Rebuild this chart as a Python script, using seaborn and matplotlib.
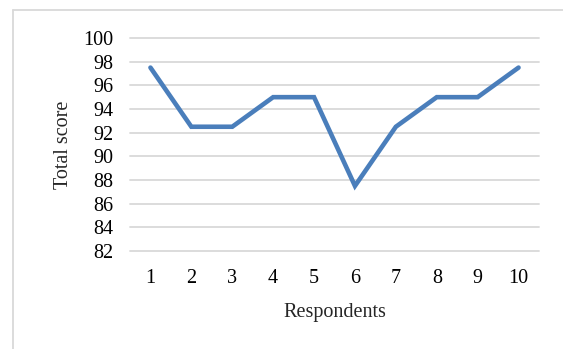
import matplotlib
matplotlib.use("Agg")
import matplotlib.pyplot as plt
from matplotlib.lines import Line2D
import seaborn as sns
import pandas as pd

respondents = [1, 2, 3, 4, 5, 6, 7, 8, 9, 10]
total_score = [97.5, 92.5, 92.5, 95, 95, 87.5, 92.5, 95, 95, 97.5]
y_ticks = [82, 84, 86, 88, 90, 92, 94, 96, 98, 100]

sns.set_theme(style="white")
plt.rcParams["font.family"] = ["Liberation Serif", "DejaVu Serif"]

df = pd.DataFrame({"Respondents": respondents, "Total score": total_score})

fig = plt.figure(figsize=(5.63, 3.49), dpi=100)
ax = fig.add_axes([130 / 563, 1 - 251 / 349, 409 / 563, 213 / 349])

sns.lineplot(data=df, x="Respondents", y="Total score", ax=ax,
             color="#4A7EBB", linewidth=3.3, solid_capstyle="round",
             solid_joinstyle="miter")

ax.set_xlim(0.5, 10.5)
ax.set_ylim(82, 100)
ax.set_yticks(y_ticks)
ax.set_xticks(respondents)
ax.yaxis.grid(True, color="#D9D9D9", linewidth=1.3)
ax.xaxis.grid(False)
for gl in ax.get_ygridlines():
    gl.set_clip_on(False)
for s in ax.spines.values():
    s.set_visible(False)

ax.tick_params(axis="both", length=0, labelsize=14.5, colors="black")
ax.tick_params(axis="y", pad=12)
ax.tick_params(axis="x", pad=13)
ax.set_xlabel("Respondents", fontsize=14.5, labelpad=11)
ax.set_ylabel("Total score", fontsize=14.5, labelpad=7)

# chart frame (left and top edges)
fig.add_artist(Line2D([13 / 563, 13 / 563], [0, 1 - 9.5 / 349],
                      transform=fig.transFigure, color="#D9D9D9", linewidth=1.3))
fig.add_artist(Line2D([13 / 563, 1], [1 - 9.5 / 349, 1 - 9.5 / 349],
                      transform=fig.transFigure, color="#D9D9D9", linewidth=1.3))

fig.savefig("out.png", dpi=100)
